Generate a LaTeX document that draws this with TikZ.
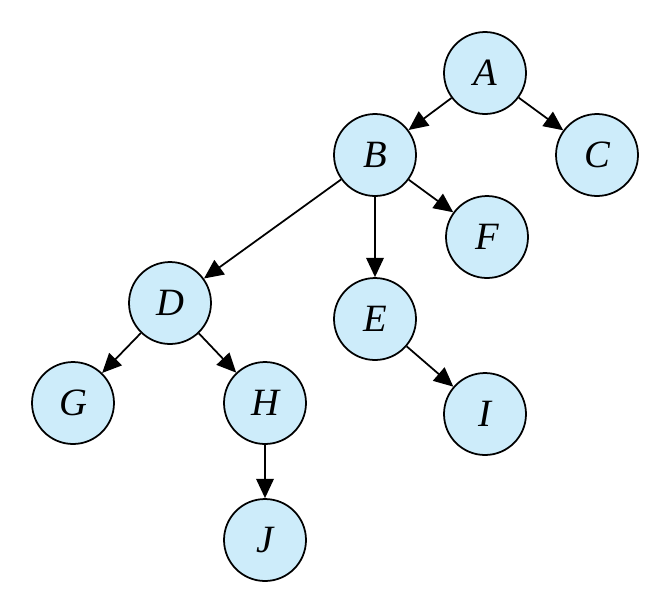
\documentclass[tikz,border=0pt]{standalone}
\usepackage{fontspec}
\setmainfont{Liberation Serif}
\usepackage{tikz}
\usetikzlibrary{arrows.meta,positioning}

\definecolor{nodeblue}{RGB}{205,236,250}

\tikzset{
  treenode/.style={circle,draw=black,fill=nodeblue,line width=1pt,
    minimum size=1.64cm,inner sep=0pt,font=\fontsize{22}{26}\selectfont\itshape},
  edge/.style={line width=1pt,-{Triangle[length=11pt,width=10pt]}}
}

\begin{document}
\begin{tikzpicture}[x=0.02cm,y=-0.02cm]
      \useasboundingbox (0,0) rectangle (669,613);
      % the nodes
      \node[treenode] (A) at (485,73) {A};
      \node[treenode] (B) at (375,155) {B};
      \node[treenode] (C) at (597,155) {C};
      \node[treenode] (F) at (487,237) {F};
      \node[treenode] (D) at (170,303) {D};
      \node[treenode] (E) at (375,319) {E};
      \node[treenode] (G) at (73,403) {G};
      \node[treenode] (H) at (265,403) {H};
      \node[treenode] (I) at (485,414) {I};
      \node[treenode] (J) at (265,540) {J};
      % the edges
      \draw[edge] (A) -- (B);
      \draw[edge] (A) -- (C);
      \draw[edge] (B) -- (D);
      \draw[edge] (B) -- (E);
      \draw[edge] (B) -- (F);
      \draw[edge] (D) -- (G);
      \draw[edge] (D) -- (H);
      \draw[edge] (E) -- (I);
      \draw[edge] (H) -- (J);
    \end{tikzpicture}
\end{document}
